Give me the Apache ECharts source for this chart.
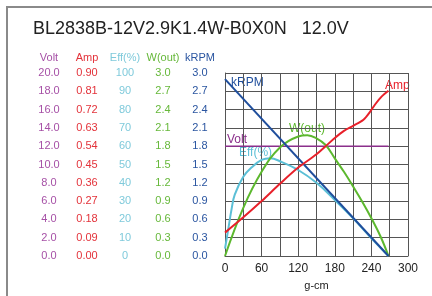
<!DOCTYPE html>
<html>
<head>
<meta charset="utf-8">
<script src="https://cdn.jsdelivr.net/npm/echarts@6/dist/echarts.min.js"></script>
<style>
  html, body { margin: 0; padding: 0; background: #fff; }
  #chart { width: 432px; height: 296px; }
</style>
</head>
<body>
<div id="chart"></div>
<script>
// torque (g-cm) samples and values
const voltTorque = [0, 268];
const voltValues = [12.0, 12.0];
const ampTorque = [0, 30, 60, 90, 120, 150, 165, 180, 195, 210, 227, 238, 246, 257, 268];
const ampValues = [0.115, 0.19, 0.27, 0.355, 0.435, 0.5, 0.54, 0.58, 0.615, 0.64, 0.67, 0.71, 0.745, 0.785, 0.813];
const effTorque = [0, 5, 11, 16, 30, 44, 60, 74, 92, 120, 150, 180, 210, 240, 268];
const effValues = [4, 14, 26, 33.5, 43.3, 48.5, 52.5, 53.4, 51.5, 47, 40, 30.6, 20.6, 9.7, 0];
const wTorque = [0, 30, 60, 90, 120, 135, 150, 165, 180, 195, 210, 225, 240, 255, 268];
const wValues = [0, 0.79, 1.38, 1.78, 1.96, 1.98, 1.93, 1.82, 1.6, 1.38, 1.14, 0.89, 0.62, 0.32, 0];
const rpmTorque = [0, 268];
const rpmValues = [2.9, 0];

const xTicks = [0, 60, 120, 180, 240, 300];

const C = {
  volt: '#8b2f8b', voltTxt: '#a650a6',
  amp: '#e8202a', ampTxt: '#e3323a',
  eff: '#5bbfd6', effTxt: '#7fcadb',
  w: '#5cb82e', wTxt: '#66b83a',
  rpm: '#1f4e9c', rpmTxt: '#2a55a0',
  grid: '#555'
};
const FONT = 'Liberation Sans, Arial, sans-serif';

const pairs = (xs, ys) => xs.map((x, i) => [x, ys[i]]);

// label-only axis, shifted left into its own column
function yAx(name, max, color, offset, fmt) {
  return {
    type: 'value', position: 'left', min: 0, max: max, interval: max / 10,
    offset: offset, name: name, nameLocation: 'end', nameGap: 10,
    nameTextStyle: { color: color, fontSize: 11, fontFamily: FONT, align: 'center', verticalAlign: 'bottom' },
    axisLine: { show: false },
    axisTick: { show: false },
    splitLine: { show: false },
    axisLabel: { margin: 0, align: 'center', color: color, fontSize: 11, fontFamily: FONT, formatter: fmt }
  };
}

const chart = echarts.init(document.getElementById('chart'));
chart.setOption({
  animation: false,
  backgroundColor: '#fff',
  title: {
    text: 'BL2838B-12V2.9K1.4W-B0X0N   12.0V', left: 28, top: 15,
    textStyle: { color: '#222', fontSize: 18, fontWeight: 'normal', fontFamily: FONT }
  },
  grid: { left: 225, right: 24, top: 73, bottom: 40 },
  xAxis: {
    type: 'value', min: 0, max: 300, interval: 30,
    name: 'g-cm', nameLocation: 'middle', nameGap: 24,
    nameTextStyle: { color: '#222', fontSize: 11, fontFamily: FONT },
    axisLine: { lineStyle: { color: C.grid, width: 1 } },
    axisTick: { show: false },
    splitLine: { show: true, lineStyle: { color: C.grid, width: 1 } },
    axisLabel: {
      margin: 7, color: '#222', fontSize: 12, fontFamily: FONT,
      formatter: v => (xTicks.indexOf(v) >= 0 ? String(v) : '')
    }
  },
  yAxis: [
    { // grid lines for the plot
      type: 'value', min: 0, max: 3, interval: 0.3,
      axisLine: { show: true, lineStyle: { color: C.grid, width: 1 } },
      axisTick: { show: false }, axisLabel: { show: false },
      splitLine: { show: true, lineStyle: { color: C.grid, width: 1 } }
    },
    yAx('kRPM', 3, C.rpmTxt, 25, v => v.toFixed(1)),
    yAx('Volt', 20, C.voltTxt, 176, v => v.toFixed(1)),
    yAx('Amp', 0.9, C.ampTxt, 138, v => v.toFixed(2)),
    yAx('Eff(%)', 100, C.effTxt, 100, v => String(Math.round(v))),
    yAx('W(out)', 3, C.wTxt, 62, v => v.toFixed(1))
  ],
  graphic: [
    { type: 'rect', silent: true, left: 6, top: 6, z: 10, shape: { width: 2, height: 290 }, style: { fill: '#8a8a8a' } },
    { type: 'rect', silent: true, left: 6, top: 6, z: 10, shape: { width: 426, height: 2 }, style: { fill: '#8a8a8a' } },
    { type: 'text', left: 231, top: 77, style: { text: 'kRPM', fill: C.rpm, font: '12px ' + FONT } },
    { type: 'text', left: 385, top: 80, style: { text: 'Amp', fill: C.amp, font: '12px ' + FONT } },
    { type: 'text', left: 289, top: 123, style: { text: 'W(out)', fill: C.w, font: '12px ' + FONT } },
    { type: 'text', left: 227, top: 134, style: { text: 'Volt', fill: C.volt, font: '12px ' + FONT } },
    { type: 'text', left: 239, top: 147, style: { text: 'Eff(%)', fill: C.eff, font: '12px ' + FONT } }
  ],
  series: [
    { type: 'line', yAxisIndex: 2, data: pairs(voltTorque, voltValues), showSymbol: false, lineStyle: { color: C.volt, width: 1.5 } },
    { type: 'line', yAxisIndex: 4, data: pairs(effTorque, effValues), smooth: 0.4, showSymbol: false, lineStyle: { color: C.eff, width: 2 } },
    { type: 'line', yAxisIndex: 5, data: pairs(wTorque, wValues), smooth: 0.4, showSymbol: false, lineStyle: { color: C.w, width: 2 } },
    { type: 'line', yAxisIndex: 1, data: pairs(rpmTorque, rpmValues), showSymbol: false, lineStyle: { color: C.rpm, width: 2 } },
    { type: 'line', yAxisIndex: 3, data: pairs(ampTorque, ampValues), smooth: 0.3, showSymbol: false, lineStyle: { color: C.amp, width: 2 } }
  ]
});
</script>
</body>
</html>
